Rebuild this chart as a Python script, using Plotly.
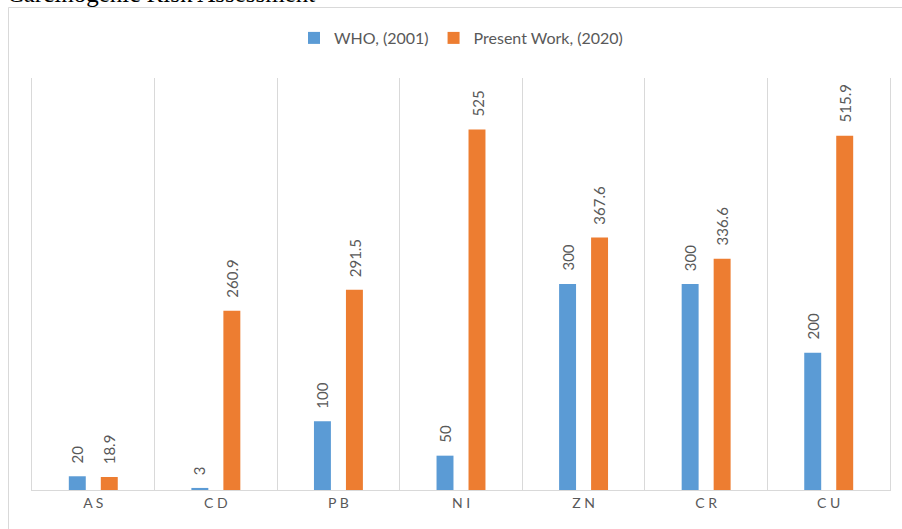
import plotly.graph_objects as go

categories = ["AS", "CD", "PB", "NI", "ZN", "CR", "CU"]
tick_labels = ["A S", "C D", "P B", "N I", "Z N", "C R", "C U"]
who_2001 = [20, 3, 100, 50, 300, 300, 200]
present_2020 = [18.9, 260.9, 291.5, 525, 367.6, 336.6, 515.9]
series_names = ["WHO, (2001)", "Present Work, (2020)"]
title_text = "Carcinogenic Risk Assessment"

BLUE = "#5B9BD5"
ORANGE = "#ED7D31"
GREY_TXT = "#595959"
GRID = "#D9D9D9"
FONT = "Lato"

W, H = 902, 529
L, R, T, B = 32, 12, 78, 39
pw, ph = W - L - R, H - T - B

def px_x(p):
    return (p - L) / pw

def px_y(p):
    return (H - B - p) / ph

fig = go.Figure()
fig.add_trace(go.Bar(x=categories, y=who_2001, name=series_names[0],
                     marker=dict(color=BLUE, line=dict(width=0))))
fig.add_trace(go.Bar(x=categories, y=present_2020, name=series_names[1],
                     marker=dict(color=ORANGE, line=dict(width=0))))

annotations = []
for vals, shift in ((who_2001, -16), (present_2020, 16)):
    for c, v in zip(categories, vals):
        annotations.append(dict(
            x=c, y=v, xref="x", yref="y", text=f"{v:g}", showarrow=False,
            textangle=-90, xanchor="center", yanchor="bottom",
            xshift=shift, yshift=11,
            font=dict(family=FONT, size=15, color=GREY_TXT)))

annotations.append(dict(
    x=px_x(5), y=px_y(9), xref="paper", yref="paper", text=title_text,
    showarrow=False, xanchor="left", yanchor="bottom",
    font=dict(family="Liberation Serif", size=25, color="#000000")))

fig.update_layout(
    width=W, height=H,
    margin=dict(l=L, r=R, t=T, b=B, autoexpand=False),
    paper_bgcolor="white", plot_bgcolor="white",
    barmode="group", bargap=0.478, bargroupgap=0.47,
    showlegend=True,
    legend=dict(orientation="h", x=0.5, xanchor="center", y=px_y(38), yanchor="middle",
                font=dict(family=FONT, size=16, color=GREY_TXT),
                itemwidth=30, traceorder="normal"),
    annotations=annotations,
    shapes=[dict(type="rect", xref="paper", yref="paper",
                 x0=px_x(8.5), x1=px_x(920), y0=px_y(545), y1=px_y(7.5),
                 line=dict(color=GRID, width=1), fillcolor="rgba(0,0,0,0)", layer="below")],
    xaxis=dict(type="category", tickmode="array", tickvals=categories, ticktext=tick_labels,
               tickson="boundaries", showgrid=True, gridcolor=GRID, gridwidth=1,
               showline=True, linecolor=GRID, linewidth=1, ticks="",
               tickfont=dict(family=FONT, size=14, color=GREY_TXT),
               range=[-0.5, 6.5]),
    yaxis=dict(range=[0, 600], showticklabels=False, showgrid=False, zeroline=False,
               showline=True, mirror=True, linecolor=GRID, linewidth=1, ticks=""),
)

fig.write_html("out.html", config={"displayModeBar": False},
               post_script="document.body.style.margin='0';document.body.style.overflow='hidden';")
